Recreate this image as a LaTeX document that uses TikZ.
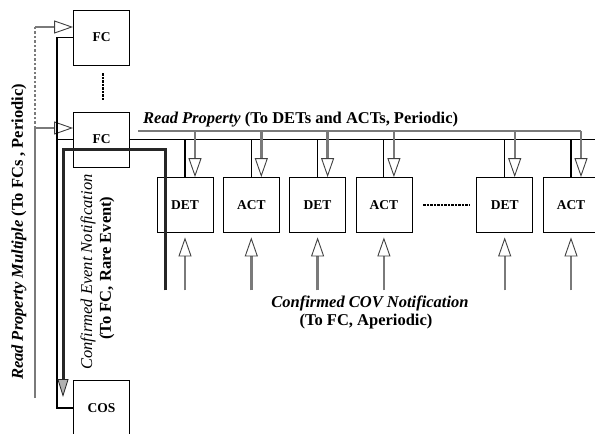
\documentclass[tikz,border=0pt]{standalone}
\usepackage{fontspec}
\setmainfont{Liberation Serif}
\usetikzlibrary{positioning,arrows.meta,calc}
\definecolor{RPGray}{HTML}{7A7A7A}

\begin{document}
\begin{tikzpicture}[
  x=1pt, y=-1pt,
  node distance=9.5pt,
  unit/.style={draw, thick, fill=white, minimum width=56pt, minimum height=55pt, inner sep=0pt, font=\bfseries\fontsize{13.5}{15}\selectfont},
  bus/.style={line width=1.1pt, black},
  rpline/.style={line width=2.4pt, RPGray},
  rparrow/.style={rpline, -{Triangle[open, length=19pt, width=13pt, line width=0.9pt, color=black!75]}},
  evline/.style={line width=3pt, black!85},
  dots/.style={line width=2.4pt, dash pattern=on 2.2pt off 1.3pt},
  lbl/.style={font=\bfseries\fontsize{16.5}{18}\selectfont, inner sep=0pt},
]
\useasboundingbox (0,0) rectangle (595,434);
\coordinate (rpm1) at (35,27);
\coordinate (rpm2) at (35,128);
\coordinate (rpmb) at (35,398);
\coordinate (rpl) at (138,131);
\coordinate (busl) at (57,139.5);
\coordinate (busr) at (595,139.5);
% read property multiple
\draw[rpline] (rpmb) -- (rpm2);
\draw[rpline, line width=2.8pt, dash pattern=on 2.5pt off 2pt] (rpm2) -- (rpm1);
% field controllers
\node[unit] (fc1) at (101.5,37.5) {FC};
\node[unit] (fc2) at (101.5,139.5) {FC};
\node[unit] (cos) at (101.5,408) {COS};
\draw[rparrow] (rpm1) -- (rpm1 -| fc1.west);
\draw[rparrow] (rpm2) -- (rpm2 -| fc2.west);
\draw[dots] ($(fc1.south)+(1.5,8)$) -- ($(fc2.north)+(1.5,-12)$);
% bus
\draw[bus] (fc1.west) -| (busl |- cos.west) -- (cos.west);
\draw[bus] (busl) -- (fc2.west);
\draw[bus] (fc2.east) -- (busr);
% devices
\node[unit] (det1) at (185,205) {DET};
\node[unit, right=of det1] (act1) {ACT};
\node[unit, right=of act1] (det2) {DET};
\node[unit, right=of det2] (act2) {ACT};
\node[unit, right=64pt of act2] (det3) {DET};
\node[unit, right=of det3] (act3) {ACT};
\draw[dots] ($(act2.east)+(11,0)$) -- ($(det3.west)+(-7,0)$);
\draw[rpline] (rpl) -- (rpl -| act3.north) -- ++(10,0);
\foreach \d in {det1,act1,det2,act2,det3,act3} {
  \draw[bus] (\d.north) -- (\d.north |- busr);
  \draw[rparrow] ($(\d.north)+(10,-46)$) -- ([xshift=10pt]\d.north);
  \draw[rparrow] ($(\d.south)+(0,57.5)$) -- ($(\d.south)+(0,4.5)$);
}
% confirmed event notification
\draw[evline, -{Triangle[length=18pt, width=11pt, fill=black!30, line width=0.8pt]}] ($(det1.south west)+(9,57.5)$) |- (63,149) -- (63,397);
% labels
\node[lbl, anchor=base west] (rplbl) at (143,123) {\textit{Read Property} (To DETs and ACTs, Periodic)};
\node[lbl, rotate=90] (rpmlbl) at (19,232) {\textit{Read Property Multiple} (To FCs , Periodic)};
\node[lbl, rotate=90, font=\itshape\fontsize{16.5}{18}\selectfont] (cenlbl) at (88,272) {Confirmed Event Notification};
\node[lbl, rotate=90] (celbl) at (107,268) {(To FC, Rare Event)};
\node[lbl] (covlbl) at (370,303) {\textit{Confirmed COV Notification}};
\node[lbl] (cov2lbl) at (366,322) {(To FC, Aperiodic)};
\end{tikzpicture}
\end{document}
